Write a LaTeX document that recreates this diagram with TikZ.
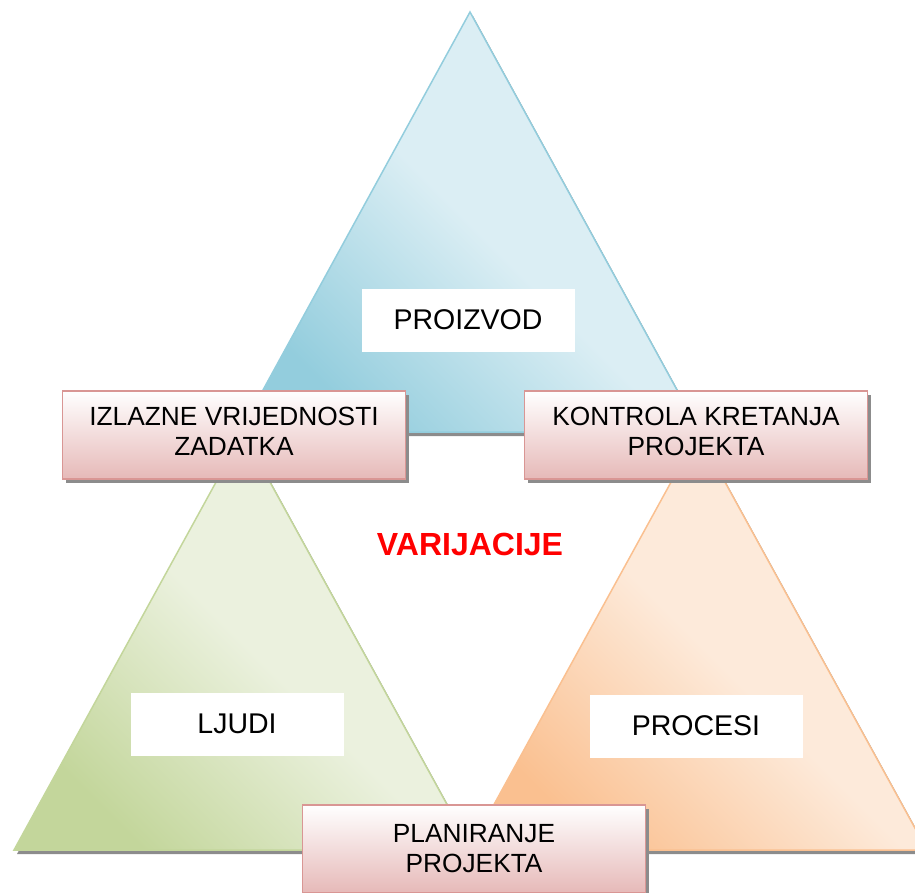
\documentclass[tikz,border=0pt]{standalone}
\usepackage{fontspec}
\setmainfont{Liberation Sans}
\usetikzlibrary{shadows}

\definecolor{blueDark}{HTML}{93CDDD}
\definecolor{blueLight}{HTML}{DBEEF4}
\definecolor{greenDark}{HTML}{C3D69B}
\definecolor{greenLight}{HTML}{EBF1DE}
\definecolor{orangeDark}{HTML}{FAC090}
\definecolor{orangeLight}{HTML}{FDEADA}
\definecolor{boxEdge}{HTML}{D99694}
\definecolor{boxPink}{HTML}{E6B9B8}

\begin{document}
\begin{tikzpicture}[x=1pt,y=-1pt,
  flatshadow/.style={drop shadow={shadow xshift=3pt,shadow yshift=-4pt,fill=black!45,opacity=1}},
  bluetri/.style={draw=blueDark,line width=1.5pt,bottom color=blueDark,top color=blueLight,middle color=blueLight,shading angle=-45,flatshadow},
  greentri/.style={draw=greenDark,line width=1.5pt,bottom color=greenDark,top color=greenLight,middle color=greenLight,shading angle=-45,flatshadow},
  orangetri/.style={draw=orangeDark,line width=1.5pt,bottom color=orangeDark,top color=orangeLight,middle color=orangeLight,shading angle=-45,flatshadow},
  labelbox/.style={fill=white,minimum width=213pt,minimum height=63pt,font=\fontsize{28.5}{32}\selectfont},
  taskbox/.style={draw=boxEdge,line width=1.5pt,top color=white,bottom color=boxPink,minimum width=343pt,minimum height=88pt,align=center,font=\fontsize{26.3}{30}\selectfont,flatshadow}]
\useasboundingbox (0,0) rectangle (915,892);

\path[bluetri] (470,12) -- (700,432) -- (240,432) -- cycle;
\path[greentri] (243,433) -- (472,850) -- (14,850) -- cycle;
\path[orangetri] (698,433) -- (927,850) -- (469,850) -- cycle;

\node[labelbox] (proizvod) at (468,320) {PROIZVOD};
\node[labelbox] (ljudi) at (237,724) {LJUDI};
\node[labelbox] (procesi) at (696,726) {PROCESI};

\node[taskbox,text depth=8pt] (izlazne) at (234,435) {IZLAZNE VRIJEDNOSTI\\ZADATKA};
\node[taskbox,text depth=8pt] (kontrola) at (696,435) {KONTROLA KRETANJA\\PROJEKTA};
\node[taskbox] (planiranje) at (474,849) {PLANIRANJE\\PROJEKTA};

\node[text=red,font=\fontsize{32}{36}\selectfont\bfseries] (varijacije) at (470,544) {VARIJACIJE};
\end{tikzpicture}
\end{document}
